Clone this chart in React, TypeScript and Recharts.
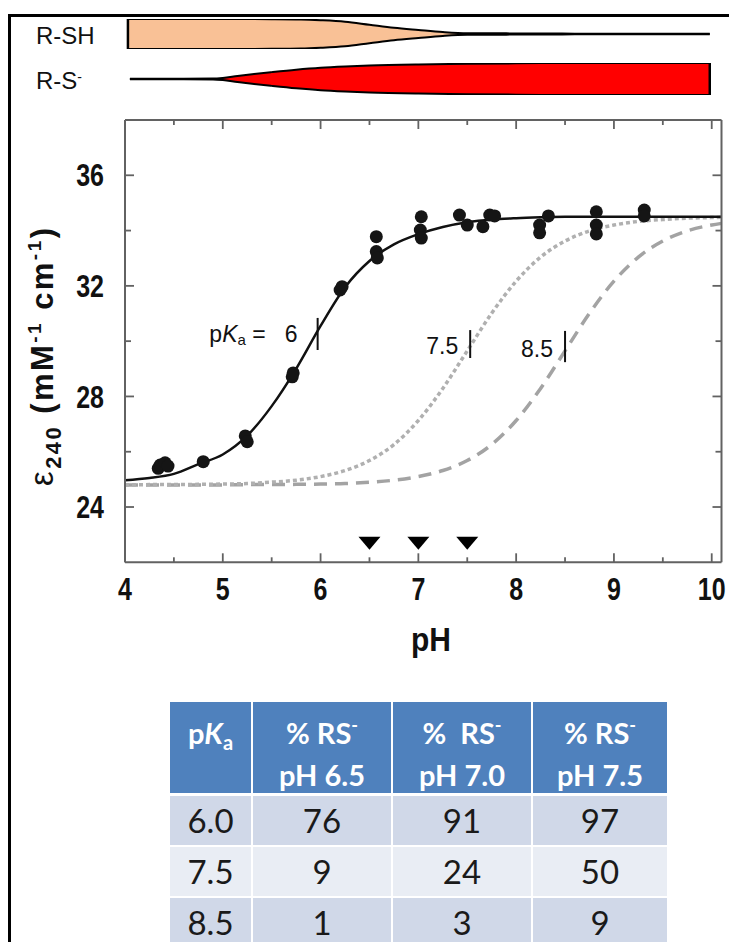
import React from 'react';
import { ComposedChart, Line, Scatter, XAxis, YAxis, Area, ReferenceLine } from 'recharts';

// ---------- data ----------
const X_TICKS = [4, 4.5, 5, 5.5, 6, 6.5, 7, 7.5, 8, 8.5, 9, 9.5, 10];
const Y_TICKS = [24, 26, 28, 30, 32, 34, 36];
const X_LABELED = [4, 5, 6, 7, 8, 9, 10];
const Y_LABELED = [24, 28, 32, 36];

const DATA_PH = [4.34, 4.36, 4.41, 4.44, 4.80, 5.23, 5.25, 5.71, 5.72, 6.20, 6.22, 6.57, 6.57, 6.58, 7.03, 7.02, 7.03, 7.42, 7.50, 7.66, 7.73, 7.78, 8.24, 8.24, 8.33, 8.82, 8.82, 8.82, 9.31, 9.31];
const DATA_EPS = [25.40, 25.52, 25.60, 25.48, 25.64, 26.57, 26.36, 28.71, 28.85, 31.85, 31.97, 33.78, 33.24, 33.01, 34.50, 34.02, 33.73, 34.56, 34.20, 34.14, 34.56, 34.53, 34.20, 33.92, 34.53, 34.68, 34.20, 33.88, 34.74, 34.53];

const FIT_PH = [4.0, 4.25, 4.5, 4.75, 5.0, 5.25, 5.5, 5.75, 6.0, 6.25, 6.5, 6.75, 7.0, 7.25, 7.5, 7.75, 8.0, 8.25, 8.5, 8.75, 9.0, 9.25, 9.5, 9.75, 10.0, 10.1];
const FIT_PKA6 = [24.97, 25.05, 25.2, 25.55, 25.9, 26.58, 27.65, 29.0, 30.55, 31.95, 32.9, 33.5, 33.87, 34.13, 34.3, 34.4, 34.45, 34.48, 34.5, 34.5, 34.5, 34.5, 34.5, 34.5, 34.5, 34.5];
const FIT_PKA75 = [24.8, 24.81, 24.81, 24.82, 24.83, 24.85, 24.9, 24.97, 25.1, 25.32, 25.68, 26.26, 27.13, 28.29, 29.65, 31.01, 32.17, 33.04, 33.62, 33.99, 34.2, 34.33, 34.4, 34.45, 34.47, 34.48];
const FIT_PKA85 = [24.8, 24.8, 24.8, 24.8, 24.8, 24.81, 24.81, 24.82, 24.83, 24.85, 24.9, 24.97, 25.1, 25.32, 25.68, 26.26, 27.13, 28.29, 29.65, 31.01, 32.17, 33.04, 33.62, 33.99, 34.2, 34.26];

const TRIANGLE_PH = [6.5, 7.0, 7.5];
const TRIANGLE_EPS = [22.69, 22.69, 22.69];

const MARKER_PH = [5.97, 7.53, 8.5];
const MARKER_LO = [29.68, 29.39, 29.24];
const MARKER_HI = [30.84, 30.4, 30.37];
const MARKER_TEXT = ['6', '7.5', '8.5'];

const RSH_PH = [4.03, 5.0, 5.5, 5.8, 6.0, 6.25, 6.5, 6.75, 7.0, 7.25, 7.5, 7.75, 8.0, 8.3, 8.6, 9.0, 9.98];
const RSH_FRAC = [1.0, 1.0, 0.99, 0.97, 0.92, 0.82, 0.62, 0.42, 0.27, 0.13, 0.05, 0.045, 0.04, 0.035, 0.02, 0.02, 0.02];
const RS_PH = [4.05, 4.6, 4.9, 5.0, 5.15, 5.3, 5.5, 5.75, 6.0, 6.25, 6.5, 7.0, 7.5, 8.0, 8.5, 9.98];
const RS_FRAC = [0.02, 0.02, 0.03, 0.07, 0.19, 0.3, 0.43, 0.58, 0.7, 0.78, 0.84, 0.91, 0.95, 0.98, 1.0, 1.0];

const TABLE_PH = ['6.5', '7.0', '7.5'];
const TABLE_PKA = ['6.0', '7.5', '8.5'];
const TABLE_VALUES = [[76, 91, 97], [9, 24, 50], [1, 3, 9]];

// ---------- derived tables ----------
const points = DATA_PH.map((p, i) => ({ pH: p, eps: DATA_EPS[i] }));
const curve6 = FIT_PH.map((p, i) => ({ pH: p, eps: FIT_PKA6[i] }));
const curve75 = FIT_PH.map((p, i) => ({ pH: p, eps: FIT_PKA75[i] }));
const curve85 = FIT_PH.map((p, i) => ({ pH: p, eps: FIT_PKA85[i] }));
const triangles = TRIANGLE_PH.map((p, i) => ({ pH: p, eps: TRIANGLE_EPS[i] }));
const markerLabels = MARKER_PH.map((p, i) => ({ pH: p, eps: (MARKER_LO[i] + MARKER_HI[i]) / 2, text: MARKER_TEXT[i], idx: i }));
const rshData = RSH_PH.map((p, i) => ({ pH: p, band: [-RSH_FRAC[i], RSH_FRAC[i]] }));
const rsData = RS_PH.map((p, i) => ({ pH: p, band: [-RS_FRAC[i], RS_FRAC[i]] }));

const FONT = '"Liberation Sans", Arial, Helvetica, sans-serif';
const FRAME = '#626262';
const W = 729;
const STRETCH = 1.28;

const TickText = ({ x, y, anchor, children }: any) => (
  <text transform={`translate(${x},${y}) scale(1,${STRETCH})`} x={0} y={0} textAnchor={anchor} dominantBaseline="central"
    fontFamily={FONT} fontWeight="bold" fontSize={25} fill="#111">
    {children}
  </text>
);

const BottomTick = (props: any) => {
  const { x, y, payload } = props;
  const v = payload.value;
  const major = X_LABELED.includes(v);
  return (
    <g>
      <line x1={x} y1={y} x2={x} y2={y - (major ? 9 : 5)} stroke={FRAME} strokeWidth={1.8} />
      {major && <TickText x={x} y={y + 27} anchor="middle">{v}</TickText>}
    </g>
  );
};
const TopTick = (props: any) => {
  const { x, y, payload } = props;
  const major = X_LABELED.includes(payload.value);
  return <line x1={x} y1={y} x2={x} y2={y + (major ? 9 : 5)} stroke={FRAME} strokeWidth={1.8} />;
};
const LeftTick = (props: any) => {
  const { x, y, payload } = props;
  const v = payload.value;
  const major = Y_LABELED.includes(v);
  return (
    <g>
      <line x1={x} y1={y} x2={x + (major ? 9 : 6)} y2={y} stroke={FRAME} strokeWidth={1.8} />
      {major && <TickText x={x - 21} y={y} anchor="end">{v}</TickText>}
    </g>
  );
};
const RightTick = (props: any) => {
  const { x, y, payload } = props;
  const major = Y_LABELED.includes(payload.value);
  return <line x1={x} y1={y} x2={x - (major ? 9 : 6)} y2={y} stroke={FRAME} strokeWidth={1.8} />;
};

const DotShape = (props: any) => {
  const { cx, cy } = props;
  return <circle cx={cx} cy={cy} r={6.5} fill="#151515" />;
};
const TriangleShape = (props: any) => {
  const { cx, cy } = props;
  return <path d={`M${cx - 11},${cy - 6.5} L${cx + 11},${cy - 6.5} L${cx},${cy + 6.5} Z`} fill="#000" />;
};
const MarkerLabelShape = (props: any) => {
  const { cx, cy, payload } = props;
  if (payload.idx === 0) {
    return (
      <text x={cx - 20} y={cy} textAnchor="end" dominantBaseline="central" fontFamily={FONT} fontSize={23} fill="#111">
        <tspan>p</tspan>
        <tspan fontStyle="italic">K</tspan>
        <tspan fontSize={15} dy={5}>a</tspan>
        <tspan dy={-5}>{'\u00a0=\u00a0\u00a0\u00a0'}</tspan>
        <tspan>{payload.text}</tspan>
      </text>
    );
  }
  return (
    <text x={cx - 12} y={cy + 2} textAnchor="end" dominantBaseline="central" fontFamily={FONT} fontSize={23} fill="#111">
      {payload.text}
    </text>
  );
};

const thCell: React.CSSProperties = {
  background: '#4F81BD',
  color: '#fff',
  fontWeight: 700,
  fontSize: 29,
  lineHeight: '37px',
  textAlign: 'center',
  verticalAlign: 'top',
  boxSizing: 'border-box',
  borderRight: '2px solid #fff',
  borderBottom: '3px solid #fff',
};

export default function App() {
  return (
    <div style={{ position: 'absolute', left: 0, top: 0, width: W, height: 942, background: '#fff', overflow: 'hidden', fontFamily: FONT }}>
      {/* outer frame */}
      <div style={{ position: 'absolute', left: 8, top: 14, width: 800, height: 1000, borderLeft: '3px solid #000', borderTop: '3px solid #000' }} />

      {/* species bands */}
      <div style={{ position: 'absolute', left: 36, top: 22, fontSize: 24, color: '#111', lineHeight: '28px' }}>R-SH</div>
      <div style={{ position: 'absolute', left: 36, top: 67, fontSize: 24, color: '#111', lineHeight: '28px' }}>
        R-S<sup style={{ fontSize: 14, verticalAlign: 'top', position: 'relative', top: -4 }}>-</sup>
      </div>
      <div style={{ position: 'absolute', left: 0, top: 0 }}>
        <ComposedChart width={W} height={60} data={rshData} margin={{ top: 19, right: 7.5, bottom: 11, left: 125 }}>
          <XAxis dataKey="pH" type="number" domain={[4, 10.1]} hide allowDataOverflow />
          <YAxis type="number" domain={[-1, 1]} hide allowDataOverflow />
          <Area dataKey="band" type="monotone" fill="#F9C196" fillOpacity={1} stroke="#000" strokeWidth={2} isAnimationActive={false} dot={false} activeDot={false} />
          <ReferenceLine segment={[{ x: RSH_PH[0], y: -RSH_FRAC[0] }, { x: RSH_PH[0], y: RSH_FRAC[0] }]} stroke="#000" strokeWidth={2.5} />
        </ComposedChart>
      </div>
      <div style={{ position: 'absolute', left: 0, top: 0 }}>
        <ComposedChart width={W} height={110} data={rsData} margin={{ top: 63, right: 7.5, bottom: 15, left: 125 }}>
          <XAxis dataKey="pH" type="number" domain={[4, 10.1]} hide allowDataOverflow />
          <YAxis type="number" domain={[-1, 1]} hide allowDataOverflow />
          <Area dataKey="band" type="monotone" fill="#FF0000" fillOpacity={1} stroke="#000" strokeWidth={2} isAnimationActive={false} dot={false} activeDot={false} />
          <ReferenceLine segment={[{ x: RS_PH[RS_PH.length - 1], y: -RS_FRAC[RS_FRAC.length - 1] }, { x: RS_PH[RS_PH.length - 1], y: RS_FRAC[RS_FRAC.length - 1] }]} stroke="#000" strokeWidth={2.5} />
        </ComposedChart>
      </div>

      {/* main chart */}
      <div style={{ position: 'absolute', left: 0, top: 0 }}>
        <ComposedChart width={W} height={700} margin={{ top: 119, right: 6.5, bottom: 97.7, left: 65 }}>
          <XAxis dataKey="pH" type="number" domain={[4, 10.1]} ticks={X_TICKS} interval={0} allowDataOverflow
            tickSize={0} tickMargin={0} tickLine={false} height={40}
            axisLine={{ stroke: FRAME, strokeWidth: 2 }} tick={(p: any) => <BottomTick {...p} />} />
          <XAxis xAxisId="top" orientation="top" dataKey="pH" type="number" domain={[4, 10.1]} ticks={X_TICKS} interval={0} allowDataOverflow
            tickSize={0} tickMargin={0} tickLine={false} height={1}
            axisLine={{ stroke: FRAME, strokeWidth: 2 }} tick={(p: any) => <TopTick {...p} />} />
          <YAxis dataKey="eps" type="number" domain={[22, 38]} ticks={Y_TICKS} interval={0} allowDataOverflow
            tickSize={0} tickMargin={0} tickLine={false} width={60}
            axisLine={{ stroke: FRAME, strokeWidth: 2 }} tick={(p: any) => <LeftTick {...p} />} />
          <YAxis yAxisId="right" orientation="right" dataKey="eps" type="number" domain={[22, 38]} ticks={Y_TICKS} interval={0} allowDataOverflow
            tickSize={0} tickMargin={0} tickLine={false} width={1}
            axisLine={{ stroke: FRAME, strokeWidth: 2 }} tick={(p: any) => <RightTick {...p} />} />

          {/* invisible series that binds the mirrored frame axes */}
          <Line data={curve6} xAxisId="top" yAxisId="right" dataKey="eps" type="monotone" dot={false} activeDot={false} stroke="none" strokeWidth={0} isAnimationActive={false} />

          <Line data={curve85} dataKey="eps" type="monotone" dot={false} activeDot={false} stroke="#a3a3a3" strokeWidth={3.5} strokeDasharray="13 8" isAnimationActive={false} />
          <Line data={curve75} dataKey="eps" type="monotone" dot={false} activeDot={false} stroke="#b0b0b0" strokeWidth={3.5} strokeDasharray="4 3" isAnimationActive={false} />
          <Line data={curve6} dataKey="eps" type="monotone" dot={false} activeDot={false} stroke="#111" strokeWidth={2.5} isAnimationActive={false} />

          {MARKER_PH.map((p, i) => (
            <ReferenceLine key={i} segment={[{ x: p, y: MARKER_LO[i] }, { x: p, y: MARKER_HI[i] }]} stroke="#111" strokeWidth={2} />
          ))}

          <Scatter data={points} dataKey="eps" shape={(p: any) => <DotShape {...p} />} isAnimationActive={false} />
          <Scatter data={triangles} dataKey="eps" shape={(p: any) => <TriangleShape {...p} />} isAnimationActive={false} />
          <Scatter data={markerLabels} dataKey="eps" shape={(p: any) => <MarkerLabelShape {...p} />} isAnimationActive={false} />
        </ComposedChart>
      </div>

      {/* axis titles */}
      <svg style={{ position: 'absolute', left: 0, top: 0 }} width={W} height={700}>
        <text transform="translate(53,357) rotate(-90)" textAnchor="middle" fontFamily={FONT} fontWeight="bold" fontSize={31} fill="#111"
          textLength={258} lengthAdjust="spacing">
          <tspan fontWeight="normal" fontSize={33}>ε</tspan>
          <tspan fontSize={22} dy={8}>240</tspan>
          <tspan dy={-8}>{'\u00a0(mM'}</tspan>
          <tspan fontSize={19} dy={-12}>-1</tspan>
          <tspan dy={12}>{'\u00a0cm'}</tspan>
          <tspan fontSize={19} dy={-12}>-1</tspan>
          <tspan dy={12}>)</tspan>
        </text>
        <text transform={`translate(431,651) scale(1,1.12)`} textAnchor="middle" fontFamily={FONT} fontWeight="bold" fontSize={30} fill="#111">pH</text>
      </svg>

      {/* table */}
      <table style={{ position: 'absolute', left: 170, top: 702, borderCollapse: 'collapse', borderSpacing: 0, fontFamily: 'Lato, "Open Sans", sans-serif', tableLayout: 'fixed', width: 497 }}>
        <colgroup>
          <col style={{ width: 82 }} />
          <col style={{ width: 140 }} />
          <col style={{ width: 140 }} />
          <col style={{ width: 135 }} />
        </colgroup>
        <tbody>
          <tr style={{ height: 92 }}>
            <td style={{ ...thCell, padding: '12px 0 0 0' }}>
              p<i>K</i><sub style={{ fontSize: 20, verticalAlign: 'baseline', position: 'relative', top: 6 }}>a</sub>
            </td>
            {TABLE_PH.map((ph, i) => (
              <td key={i} style={{ ...thCell, padding: '12px 0 0 0', borderRight: i === TABLE_PH.length - 1 ? 'none' : '2px solid #fff' }}>
                <div>{i === 1 ? '%\u00a0\u00a0RS' : '% RS'}<sup style={{ fontSize: 18, verticalAlign: 'baseline', position: 'relative', top: -12 }}>-</sup></div>
                <div>pH {ph}</div>
              </td>
            ))}
          </tr>
          {TABLE_PKA.map((pk, r) => (
            <tr key={r} style={{ height: 51, background: r === 1 ? '#E9EDF4' : '#D0D8E8' }}>
              <td style={{ textAlign: 'center', fontSize: 33, color: '#1a1a1a', padding: 0, borderRight: '2px solid #fff', borderBottom: '2px solid #fff' }}>{pk}</td>
              {TABLE_VALUES[r].map((v, c) => (
                <td key={c} style={{ textAlign: 'center', fontSize: 33, color: '#1a1a1a', padding: 0, borderRight: c === 2 ? 'none' : '2px solid #fff', borderBottom: '2px solid #fff' }}>{v}</td>
              ))}
            </tr>
          ))}
        </tbody>
      </table>
    </div>
  );
}
